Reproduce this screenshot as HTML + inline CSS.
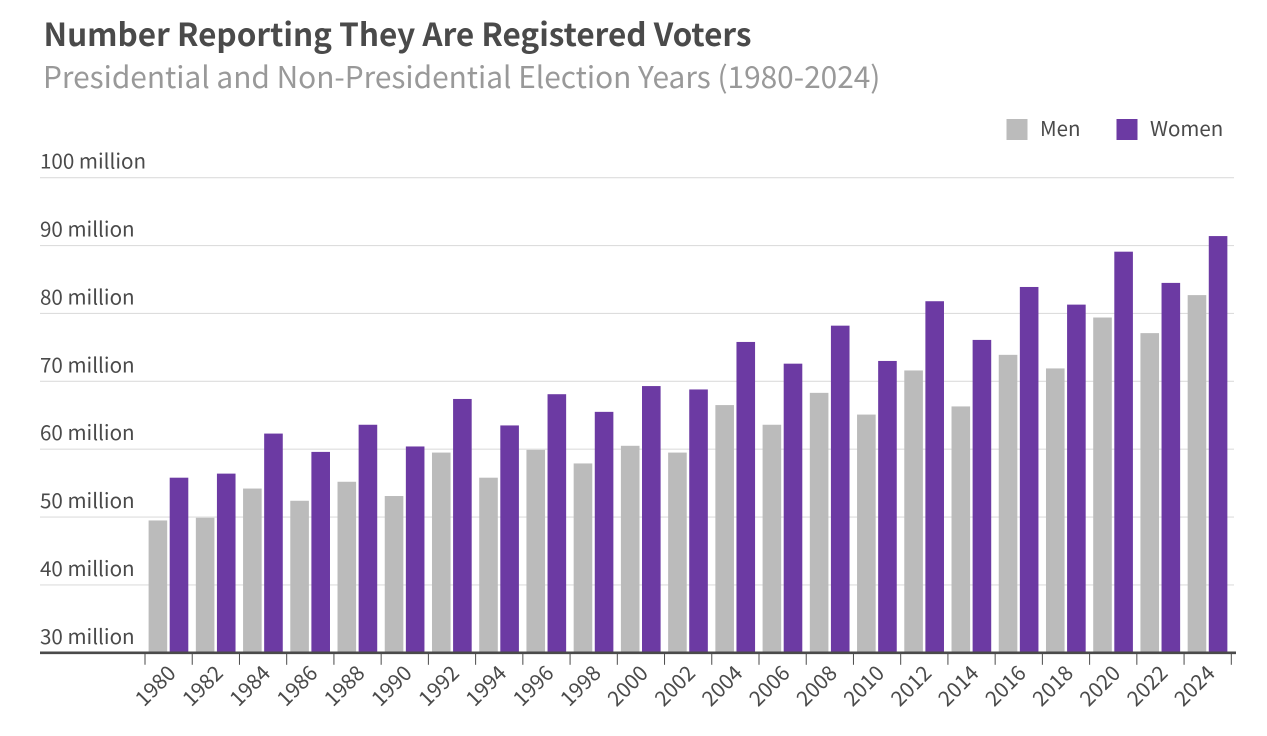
<!DOCTYPE html>
<html lang="en">
<head>
<meta charset="utf-8">
<title>Number Reporting They Are Registered Voters</title>
<style>
html,body{margin:0;padding:0;background:#fff;}
body{width:1267px;height:736px;overflow:hidden;}
svg{display:block;font-family:"Noto Sans CJK JP","Liberation Sans",sans-serif;}
</style>
</head>
<body>
<svg id="chart" width="1267" height="736" viewBox="0 0 1267 736" xmlns="http://www.w3.org/2000/svg">
  <text x="43.5" y="46" font-size="31.5" font-weight="700" fill="#4a4a4a">Number Reporting They Are Registered Voters</text>
  <text x="43" y="88" font-size="29.84" fill="#999999">Presidential and Non-Presidential Election Years (1980-2024)</text>
  <g>
    <rect x="1006.5" y="119" width="21" height="21" fill="#bbbbbb"/>
    <text x="1040" y="136" font-size="20.5" fill="#4a4a4a">Men</text>
    <rect x="1116.5" y="119" width="21" height="21" fill="#6c3aa3"/>
    <text x="1150" y="136" font-size="20.5" fill="#4a4a4a">Women</text>
  </g>
  <g id="grid"></g>
  <g id="bars"></g>
  <g id="xaxis"></g>
</svg>
<script>
const years = [1980,1982,1984,1986,1988,1990,1992,1994,1996,1998,2000,2002,2004,2006,2008,2010,2012,2014,2016,2018,2020,2022,2024];
const men = [49.5,49.9,54.2,52.4,55.2,53.1,59.5,55.8,59.9,57.9,60.5,59.5,66.5,63.6,68.3,65.1,71.6,66.3,73.9,71.9,79.4,77.1,82.7];
const women = [55.8,56.4,62.3,59.6,63.6,60.4,67.4,63.5,68.1,65.5,69.3,68.8,75.8,72.6,78.2,73.0,81.8,76.1,83.9,81.3,89.1,84.5,91.4];
const yTicks = [30,40,50,60,70,80,90,100];

const NS = 'http://www.w3.org/2000/svg';
const yMin = 30, yMax = 100, yBottom = 652.8, yTop = 177.7;
const plotLeft = 40, plotRight = 1234;
const xStart = 145, band = (1231.3 - 145) / years.length;
const barWidth = 18.6, barInset = 3.6, barGap = 2.5;

function yScale(v) {
  return yBottom - (v - yMin) / (yMax - yMin) * (yBottom - yTop);
}
function xScale(i) {
  return xStart + i * band;
}
function make(tag, attrs, parent) {
  const el = document.createElementNS(NS, tag);
  for (const k in attrs) el.setAttribute(k, attrs[k]);
  parent.appendChild(el);
  return el;
}

const grid = document.getElementById('grid');
yTicks.forEach(function (t) {
  const y = yScale(t);
  if (t !== yMin) {
    const line = make('line', {x1: plotLeft, x2: plotRight, y1: y, y2: y, stroke: '#dddddd', 'stroke-width': 1.2}, grid);
    
    
  }
  const label = make('text', {x: plotLeft, y: y - 9, 'font-size': 20.6, fill: '#4a4a4a'}, grid);
  
  
  label.textContent = t + ' million';
});

const bars = document.getElementById('bars');
years.forEach(function (yr, i) {
  const x0 = xScale(i) + barInset;
  const m = make('rect', {x: x0, y: yScale(men[i]), width: barWidth, height: yBottom - yScale(men[i]), fill: '#bbbbbb'}, bars);
  
  
  const w = make('rect', {x: x0 + barWidth + barGap, y: yScale(women[i]), width: barWidth, height: yBottom - yScale(women[i]), fill: '#6c3aa3'}, bars);
  
  
});

const xaxis = document.getElementById('xaxis');
const axisLine = make('line', {x1: plotLeft, x2: 1236, y1: yBottom, y2: yBottom, stroke: '#4a4a4a', 'stroke-width': 2.6}, xaxis);


for (let i = 0; i <= years.length; i++) {
  const x = xScale(i);
  const tick = make('line', {x1: x, x2: x, y1: yBottom, y2: yBottom + 12, stroke: '#4a4a4a', 'stroke-width': 1}, xaxis);
  
  
}
years.forEach(function (yr, i) {
  const cx = xScale(i) + band / 2 - 12;
  const label = make('text', {x: cx, y: 687, 'font-size': 21, fill: '#4a4a4a', 'text-anchor': 'middle', transform: 'rotate(-45 ' + cx + ' 687)', 'dominant-baseline': 'middle'}, xaxis);
  
  
  label.textContent = yr;
});
</script>
</body>
</html>
